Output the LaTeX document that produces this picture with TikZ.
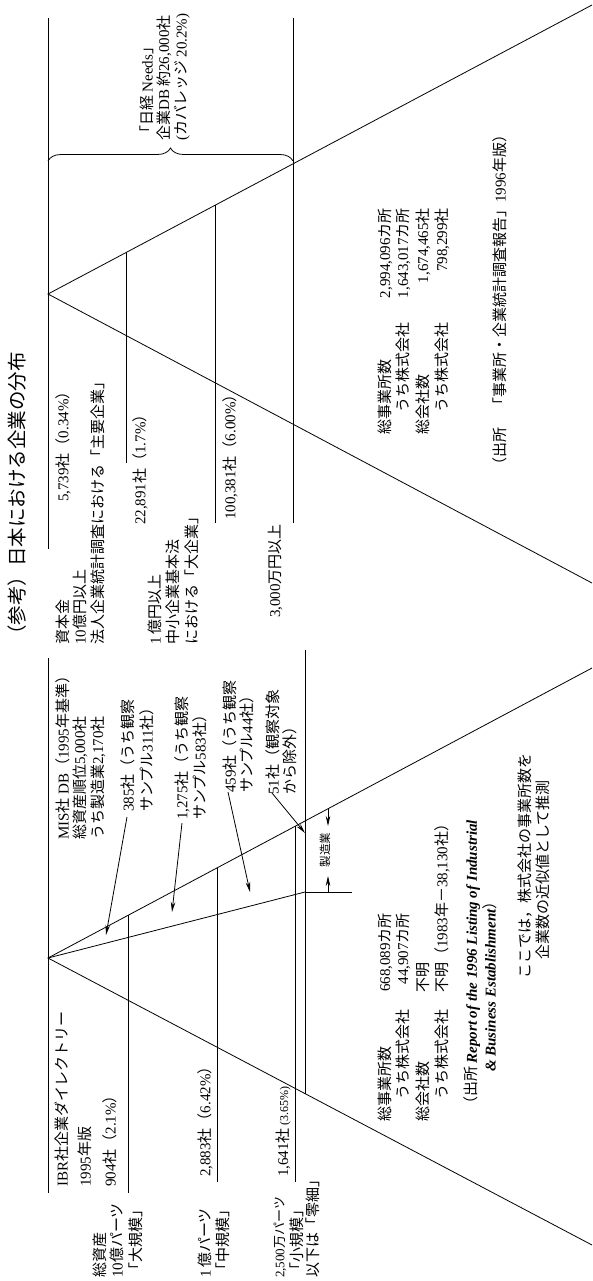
\documentclass[tikz,border=0pt]{standalone}
\usepackage{fontspec}
\setmainfont{Noto Sans CJK JP}
\newfontfamily\enfont{Liberation Serif}
\newcommand\D[1]{{\enfont #1}}
\usetikzlibrary{arrows.meta,decorations.pathreplacing}
\tikzset{
  lbl/.style={rotate=90, inner sep=0pt, font=\fontsize{15}{17}\selectfont},
  ttl/.style={lbl, font=\fontsize{19.5}{22}\selectfont},
  sml/.style={lbl, font=\fontsize{11.5}{13}\selectfont},
  cnd/.style={lbl, font=\fontsize{13}{15}\selectfont},
  ln/.style={line width=0.8pt},
  arr/.style={line width=0.8pt, -{Stealth[length=10pt,width=4.5pt]}},
  brc/.style={line width=0.8pt, decorate, decoration={brace, amplitude=13pt}},
}
\begin{document}
\begin{tikzpicture}[x=1pt,y=-1pt]
\useasboundingbox (0,0) rectangle (592,1281);
% ---------------- upper diagram ----------------
\coordinate (tA) at (48,294);
\coordinate (tU) at (592,5);
\coordinate (tL) at (592,583);
\coordinate (t1a) at (48,18);    \coordinate (t1b) at (48,549);
\coordinate (t2a) at (126,252.6);\coordinate (t2b) at (126,463);
\coordinate (t3a) at (215,205.3);\coordinate (t3b) at (215,523);
\coordinate (t4a) at (293,18);   \coordinate (t4b) at (293,523);
\coordinate (br1) at (48,161);   \coordinate (br2) at (293,161);
\draw[ln] (tU) -- (tA) -- (tL);
\draw[ln] (t1a) -- (t1b);
\draw[ln] (t2a) -- (t2b);
\draw[ln] (t3a) -- (t3b);
\draw[ln] (t4a) -- (t4b);
\draw[brc] (br1) -- (br2);

\node[ttl, anchor=west] (title) at (17,645) {（参考）日本における企業の分布};
\node[lbl, anchor=west] (l1) at (63,645) {資本金};
\node[lbl, anchor=west] (l2) at (80,645) {\D{10}億円以上};
\node[lbl, anchor=west] (l3) at (98,645) {法人企業統計調査における「主要企業」};
\node[lbl, anchor=west] (c1) at (63,502) {\D{5,739}社（\D{0.34\%}）};
\node[lbl, anchor=west] (c2) at (140,525) {\D{22,891}社（\D{1.7\%}）};
\node[lbl, anchor=west] (l4) at (155,645) {\D{1}\,億円以上};
\node[lbl, anchor=west] (l5) at (173,645) {中小企業基本法};
\node[lbl, anchor=west] (l6) at (192,645) {における「大企業」};
\node[lbl, anchor=west] (c3) at (230,520) {\D{100,381}社（\D{6.00\%}）};
\node[lbl, anchor=west] (l7) at (275,618) {\D{3,000}万円以上};
\node[lbl, anchor=west] (n1) at (147,141) {「日経 \D{Needs}」};
\node[lbl, anchor=west] (n2) at (164,141) {企業\D{DB} 約\D{26,000}社};
\node[lbl, anchor=west] (n3) at (182,141) {\D{(}カバレッジ \D{20.2\%)}};
\node[lbl, anchor=west] (r1) at (385,435) {総事業所数};
\node[lbl, anchor=west] (r2) at (403,413) {うち株式会社};
\node[lbl, anchor=west] (r3) at (423,435) {総会社数};
\node[lbl, anchor=west] (r4) at (442,413) {うち株式会社};
\node[lbl, anchor=east] (rn1) at (385,208) {\D{2,994,096}カ所};
\node[lbl, anchor=east] (rn2) at (403,208) {\D{1,643,017}カ所};
\node[lbl, anchor=east] (rn3) at (423,208) {\D{1,674,465}社};
\node[lbl, anchor=east] (rn4) at (442,208) {\D{798,299}社};
\node[lbl, anchor=west] (src1) at (500,473) {（出所\quad「事業所・企業統計調査報告」\D{1996}年版）};

% ---------------- lower diagram ----------------
\coordinate (bA) at (48,958);
\coordinate (bU) at (592,668);
\coordinate (bL) at (592,1245);
\coordinate (bM) at (305,892);
\coordinate (b1a) at (48,658);    \coordinate (b1b) at (48,1193);
\coordinate (b2a) at (128,915.4); \coordinate (b2b) at (128,1193);
\coordinate (b3a) at (217,867.9); \coordinate (b3b) at (217,1182);
\coordinate (b4a) at (295,826.3); \coordinate (b4b) at (295,1182);
\coordinate (b5a) at (305,650);   \coordinate (b5b) at (305,1093.6);
\coordinate (ext) at (352,892);
\coordinate (d1a) at (328,808.7); \coordinate (d1b) at (328,826);
\coordinate (d2a) at (328,892);   \coordinate (d2b) at (328,876);
\draw[ln] (bU) -- (bA) -- (bL);
\draw[ln] (bA) -- (bM);
\draw[ln] (b1a) -- (b1b);
\draw[ln] (b2a) -- (b2b);
\draw[ln] (b3a) -- (b3b);
\draw[ln] (b4a) -- (b4b);
\draw[ln] (b5a) -- (b5b);
\draw[ln] (bM) -- (ext);
\draw[arr] (d1a) -- (d1b);
\draw[arr] (d2a) -- (d2b);

\node[lbl, anchor=west] (m1) at (63,840) {\D{MIS}社 \D{DB}（\D{1995}年基準）};
\node[lbl, anchor=west] (m2) at (80,840) {総資産順位\D{5,000}社};
\node[lbl, anchor=west] (m3) at (98,840) {うち製造業\D{2,170}社};
\node[lbl, anchor=west] (s1) at (128,812) {\D{385}社（うち観察};
\node[lbl, anchor=west] (s1b) at (147,812) {サンプル\D{311}社）};
\node[lbl, anchor=west] (s2) at (182,820) {\D{1,275}社（うち観察};
\node[lbl, anchor=west] (s2b) at (200,820) {サンプル\D{583}社）};
\node[lbl, anchor=west] (s3) at (230,793) {\D{459}社（うち観察};
\node[lbl, anchor=west] (s3b) at (247,793) {サンプル\D{44}社）};
\node[lbl, anchor=west] (s4) at (273,795) {\D{51}社（観察対象};
\node[lbl, anchor=west] (s4b) at (290,795) {から除外）};
\node[sml] (mfg) at (325,850) {製造業};

\coordinate (a1s) at (127,817);  \coordinate (a1e) at (106,935);
\coordinate (a2s) at (182,823);  \coordinate (a2e) at (172,912);
\coordinate (a3s) at (228,792);  \coordinate (a3e) at (250,892);
\coordinate (a4s) at (272,793);  \coordinate (a4e) at (305,833);
\draw[arr] (a1s) -- (a1e);
\draw[arr] (a2s) -- (a2e);
\draw[arr] (a3s) -- (a3e);
\draw[arr] (a4s) -- (a4e);

\node[lbl, anchor=west] (i1) at (62,1187) {\D{IBR}社企業ダイレクトリー};
\node[lbl, anchor=west] (i2) at (85,1187) {\D{1995}年版};
\node[lbl, anchor=west] (i3) at (110,1187) {\D{904}社（\D{2.1\%}）};
\node[lbl, anchor=west] (g1) at (100,1278) {総資産};
\node[lbl, anchor=west] (g2) at (117,1278) {\D{10}億パーツ};
\node[lbl, anchor=west] (g3) at (136,1278) {「大規模」};
\node[lbl, anchor=west] (g4) at (205,1278) {\D{1}\,億パーツ};
\node[lbl, anchor=west] (k2) at (205,1177) {\D{2,883}社（\D{6.42\%}）};
\node[lbl, anchor=west] (g5) at (223,1278) {「中規模」};
\node[cnd, anchor=west] (g6) at (280,1278) {\D{2,500}万パーツ};
\node[lbl, anchor=west] (k3) at (283,1177) {\D{1,641}社\,{\fontsize{12}{13}\selectfont\D{(3.65\%)}}};
\node[lbl, anchor=west] (g7) at (297,1278) {「小規模」};
\node[lbl, anchor=west] (g8) at (313,1278) {以下は「零細」};

\node[lbl, anchor=west] (q1) at (385,1122) {総事業所数};
\node[lbl, anchor=west] (q2) at (403,1100) {うち株式会社};
\node[lbl, anchor=west] (q3) at (423,1122) {総会社数};
\node[lbl, anchor=west] (q4) at (442,1100) {うち株式会社};
\node[lbl, anchor=east] (qn1) at (385,913) {\D{668,089}カ所};
\node[lbl, anchor=east] (qn2) at (403,913) {\D{44,907}カ所};
\node[lbl, anchor=west] (qn3) at (423,993) {不明};
\node[lbl, anchor=west] (qn4) at (442,993) {不明（\D{1983}年－\D{38,130}社）};
\node[lbl, anchor=west] (src2) at (472,1112) {（出所 {\enfont\bfseries\itshape Report of the 1996 Listing of Industrial}};
\node[lbl, anchor=west] (src2b) at (490,1072) {{\enfont\bfseries\itshape \& Business Establishment}）};
\node[lbl] (note1) at (525,866) {ここでは，株式会社の事業所数を};
\node[lbl] (note2) at (543,870) {企業数の近似値として推測};
\end{tikzpicture}
\end{document}
